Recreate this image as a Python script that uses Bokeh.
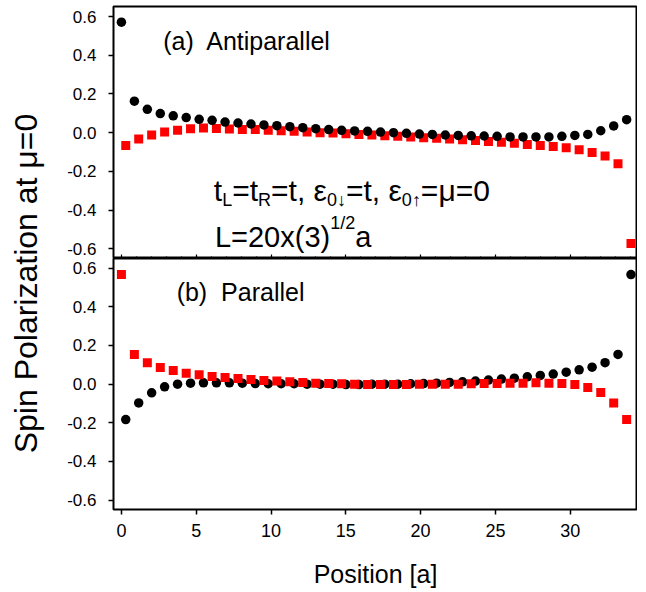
import math
from bokeh.plotting import figure
from bokeh.models import FixedTicker, PrintfTickFormatter, Label, Range1d
from bokeh.layouts import row, column
from bokeh.embed import file_html
from bokeh.resources import INLINE

FONT = "Liberation Sans"

# ---------------- data ----------------
# site positions (units of a): two sublattices
site_A = [0.000, 0.866, 1.732, 2.598, 3.464, 4.330, 5.196, 6.062, 6.928, 7.794,
          8.660, 9.526, 10.392, 11.258, 12.124, 12.990, 13.856, 14.722, 15.588, 16.454,
          17.321, 18.187, 19.053, 19.919, 20.785, 21.651, 22.517, 23.383, 24.249, 25.115,
          25.981, 26.847, 27.713, 28.579, 29.445, 30.311, 31.177, 32.043, 32.909, 33.775]
site_B = [0.289, 1.155, 2.021, 2.887, 3.753, 4.619, 5.485, 6.351, 7.217, 8.083,
          8.949, 9.815, 10.681, 11.547, 12.413, 13.279, 14.145, 15.011, 15.877, 16.743,
          17.609, 18.475, 19.341, 20.207, 21.073, 21.939, 22.805, 23.671, 24.537, 25.403,
          26.269, 27.135, 28.001, 28.867, 29.733, 30.599, 31.465, 32.331, 33.197, 34.064]

# (a) Antiparallel
anti_black = [0.571, 0.163, 0.121, 0.099, 0.087, 0.078, 0.069, 0.064, 0.055, 0.050,
              0.045, 0.040, 0.036, 0.031, 0.026, 0.021, 0.016, 0.012, 0.009, 0.007,
              0.003, 0.000, -0.003, -0.007, -0.009, -0.012, -0.014, -0.016, -0.017, -0.019,
              -0.022, -0.022, -0.022, -0.022, -0.019, -0.014, -0.009, 0.010, 0.035, 0.067]
anti_red = [-0.066, -0.033, -0.012, 0.003, 0.012, 0.021, 0.024, 0.022, 0.019, 0.017,
            0.016, 0.012, 0.010, 0.007, 0.003, 0.000, -0.002, -0.005, -0.009, -0.012,
            -0.016, -0.019, -0.022, -0.026, -0.029, -0.033, -0.036, -0.040, -0.045, -0.050,
            -0.055, -0.061, -0.066, -0.071, -0.078, -0.088, -0.102, -0.121, -0.161, -0.573]

# (b) Parallel
par_red = [0.567, 0.154, 0.111, 0.086, 0.071, 0.057, 0.048, 0.040, 0.035, 0.029,
           0.024, 0.019, 0.016, 0.012, 0.009, 0.005, 0.003, 0.002, 0.000, -0.002,
           -0.002, -0.002, -0.002, 0.000, 0.000, 0.000, 0.000, 0.002, 0.003, 0.003,
           0.005, 0.005, 0.007, 0.005, 0.003, -0.002, -0.017, -0.043, -0.098, -0.183]
par_black = [-0.183, -0.097, -0.045, -0.014, 0.000, 0.005, 0.007, 0.007, 0.007, 0.005,
             0.003, 0.002, 0.002, 0.002, 0.000, 0.000, 0.000, -0.002, -0.002, 0.000,
             0.000, 0.000, 0.002, 0.003, 0.005, 0.009, 0.012, 0.016, 0.021, 0.026,
             0.031, 0.038, 0.045, 0.052, 0.062, 0.074, 0.088, 0.111, 0.154, 0.567]

x_ticks = [0, 5, 10, 15, 20, 25, 30]
x_minor = list(range(0, 35))
y_ticks = [-0.6, -0.4, -0.2, 0.0, 0.2, 0.4, 0.6]

y_title = "Spin Polarization at μ=0"
x_title = "Position [a]"
label_a = "(a)\u00a0 Antiparallel"
label_b = "(b)\u00a0 Parallel"

# ---------------- layout constants ----------------
X_RANGE = (-0.53, 34.5)
FRAME_W = 524
LEFT_BORDER = 65
Y_TICK_FS = "17px"
X_TICK_FS = "18px"

# Arial / Liberation Sans advance widths (per 1000 em)
ADV = {"t": 278, "L": 556, "=": 584, "R": 722, ",": 278, " ": 278, "ε": 445,
       "0": 556, "↓": 500, "↑": 500, "μ": 576, "2": 556, "x": 500, "(": 333,
       ")": 333, "3": 556, "1": 556, "/": 278, "a": 556}


def text_w(s, size):
    return sum(ADV.get(c, 556) for c in s) * size / 1000.0


def rich_text(p, x, y, pieces, main, small):
    off = 0.0
    for txt, kind in pieces:
        size = main if kind == "n" else small
        dy = 0 if kind == "n" else (-9 if kind == "sub" else 14)
        p.add_layout(Label(x=x, y=y, x_offset=off, y_offset=dy, text=txt,
                           text_font=FONT, text_font_size=f"{size}px",
                           text_baseline="alphabetic", text_align="left",
                           text_color="black"))
        off += text_w(txt, size)


def make_panel(frame_h, y_range, top_border, bottom_border):
    p = figure(frame_width=FRAME_W, frame_height=frame_h,
               x_range=Range1d(*X_RANGE), y_range=Range1d(*y_range),
               toolbar_location=None, output_backend="svg",
               min_border_left=LEFT_BORDER, min_border_right=0,
               min_border_top=top_border, min_border_bottom=bottom_border)
    p.outline_line_color = "black"
    p.outline_line_width = 2
    p.xgrid.visible = False
    p.ygrid.visible = False
    p.background_fill_color = "white"
    p.border_fill_color = "white"
    ya = p.yaxis[0]
    ya.ticker = FixedTicker(ticks=y_ticks)
    ya.formatter = PrintfTickFormatter(format="%.1f")
    ya.major_tick_out = 5
    ya.major_tick_in = 0
    ya.major_tick_line_width = 1.5
    ya.major_tick_line_color = "black"
    ya.minor_tick_line_color = None
    ya.axis_line_color = None
    ya.major_label_text_font = FONT
    ya.major_label_text_font_size = Y_TICK_FS
    ya.major_label_text_color = "black"
    ya.major_label_standoff = 12
    return p


# ---------------- panel (a) ----------------
pa = make_panel(252, (-0.650, 0.652), 6, 0)
xa = pa.xaxis[0]
xa.ticker = FixedTicker(ticks=x_ticks, minor_ticks=x_minor)
xa.major_tick_in = 4
xa.major_tick_out = 0
xa.minor_tick_in = 2
xa.minor_tick_out = 0
xa.major_tick_line_width = 1.2
xa.minor_tick_line_width = 1.2
xa.major_tick_line_color = "black"
xa.minor_tick_line_color = "black"
xa.axis_line_color = None
xa.major_label_text_font_size = "1px"
xa.major_label_text_color = None
xa.major_label_standoff = 0

pa.scatter(site_B, anti_red, marker="square", size=9, fill_color="#ff0000",
           line_color=None)
pa.scatter(site_A, anti_black, marker="circle", size=9.5, fill_color="black",
           line_color=None)

pa.add_layout(Label(x=2.79, y=0.474, text=label_a, text_font=FONT,
                    text_font_size="25px", text_baseline="alphabetic",
                    text_color="black"))

rich_text(pa, 6.18, -0.300,
          [("t", "n"), ("L", "sub"), ("=t", "n"), ("R", "sub"), ("=t, ε", "n"),
           ("0↓", "sub"), ("=t, ε", "n"), ("0↑", "sub"), ("=μ=0", "n")], 30, 18)
rich_text(pa, 6.25, -0.538,
          [("L=20x(3)", "n"), ("1/2", "sup"), ("a", "n")], 29, 18)

# ---------------- panel (b) ----------------
pb = make_panel(251, (-0.6485, 0.650), 0, 84)
xb = pb.xaxis[0]
xb.ticker = FixedTicker(ticks=x_ticks)
xb.major_tick_in = 0
xb.major_tick_out = 5
xb.major_tick_line_width = 1.5
xb.major_tick_line_color = "black"
xb.minor_tick_line_color = None
xb.axis_line_color = None
xb.major_label_text_font = FONT
xb.major_label_text_font_size = X_TICK_FS
xb.major_label_text_color = "black"
xb.major_label_standoff = 9
xb.axis_label = x_title
xb.axis_label_text_font = FONT
xb.axis_label_text_font_size = "25px"
xb.axis_label_text_font_style = "normal"
xb.axis_label_text_color = "black"
xb.axis_label_standoff = 20

pb.scatter(site_B, par_black, marker="circle", size=9.5, fill_color="black",
           line_color=None)
pb.scatter(site_A, par_red, marker="square", size=9, fill_color="#ff0000",
           line_color=None)

pb.add_layout(Label(x=3.69, y=0.476, text=label_b, text_font=FONT,
                    text_font_size="25px", text_baseline="alphabetic",
                    text_color="black"))

# ---------------- y title column ----------------
LAB_W, LAB_H = 48, 592
pl = figure(width=LAB_W, height=LAB_H, x_range=Range1d(0, LAB_W),
            y_range=Range1d(0, LAB_H), toolbar_location=None,
            output_backend="svg", min_border=0)
pl.axis.visible = False
pl.grid.visible = False
pl.outline_line_color = None
pl.background_fill_color = "white"
pl.border_fill_color = "white"
pl.add_layout(Label(x=25, y=LAB_H - 283, text=y_title, angle=math.pi / 2,
                    text_align="center", text_baseline="middle", text_font=FONT,
                    text_font_size="32px", text_color="black"))

layout = row(pl, column(pa, pb))

with open("out.html", "w") as f:
    f.write(file_html(layout, INLINE))
